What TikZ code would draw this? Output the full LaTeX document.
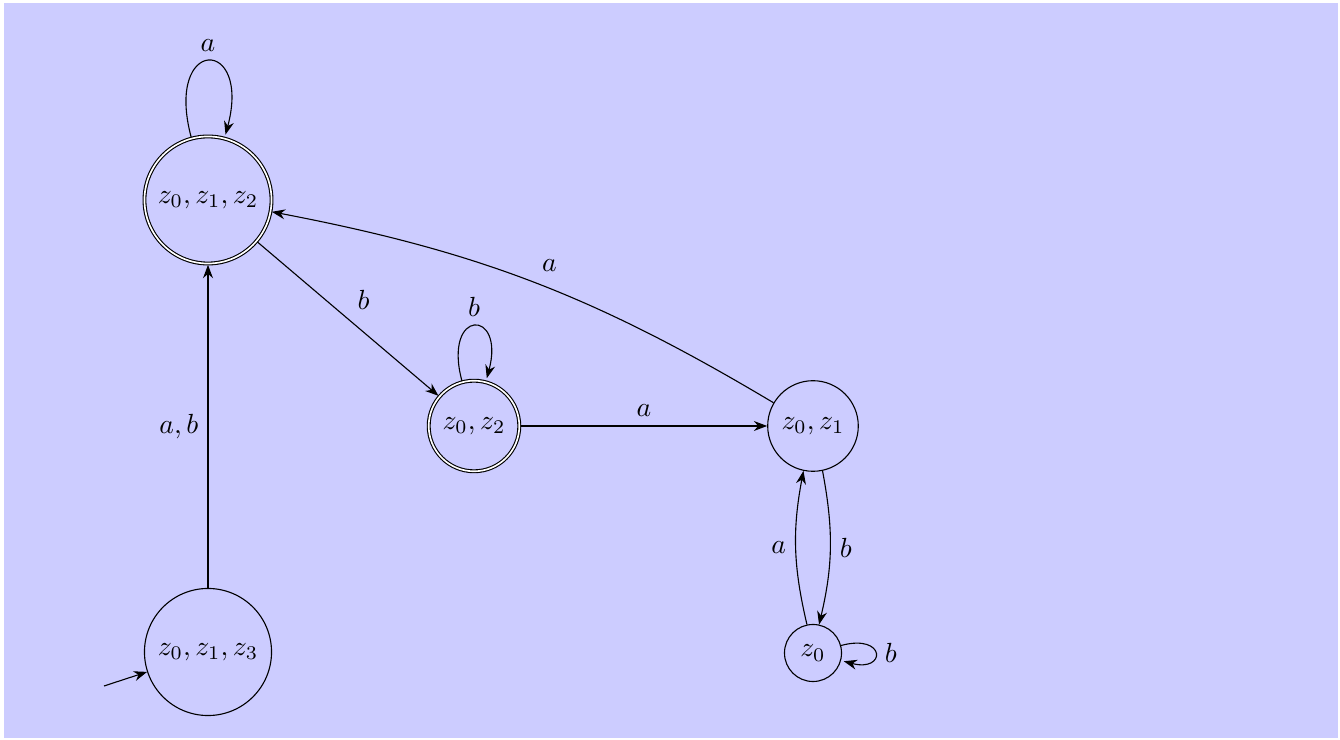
\documentclass[tikz,border=0pt]{standalone}
\usetikzlibrary{automata,arrows.meta}
\begin{document}
\begin{tikzpicture}[x=0.0127cm,y=-0.0127cm,>=Stealth,auto,
  every state/.style={draw,circle,inner sep=0.3333em},
  big/.style={minimum size=1.613cm},
  mid/.style={minimum size=1.15cm},
  small/.style={minimum size=0.724cm}]
\useasboundingbox (0,0) rectangle (1340,740);
\fill[blue!20] (4,3) rectangle (1338,738);
\node[state,accepting,big] (A) at (208,200) {$z_0,z_1,z_2$};
\node[state,accepting,mid] (B) at (474,426) {$z_0,z_2$};
\node[state,mid] (C) at (813,426) {$z_0,z_1$};
\node[state,small] (D) at (813,653) {$z_0$};
\node[state,big] (E) at (208,652) {$z_0,z_1,z_3$};
\coordinate (init) at (104,686);
\draw[->] (init) -- (E);
\path[->]
  (A) edge[loop above] node {$a$} (A)
  (A) edge node {$b$} (B)
  (B) edge[loop above] node {$b$} (B)
  (B) edge node {$a$} (C)
  (C) edge[bend right=10] node[swap] {$a$} (A)
  (C) edge[bend left=12] node {$b$} (D)
  (D) edge[bend left=12] node {$a$} (C)
  (D) edge[loop right] node {$b$} (D)
  (E) edge node {$a,b$} (A);
\end{tikzpicture}
\end{document}
